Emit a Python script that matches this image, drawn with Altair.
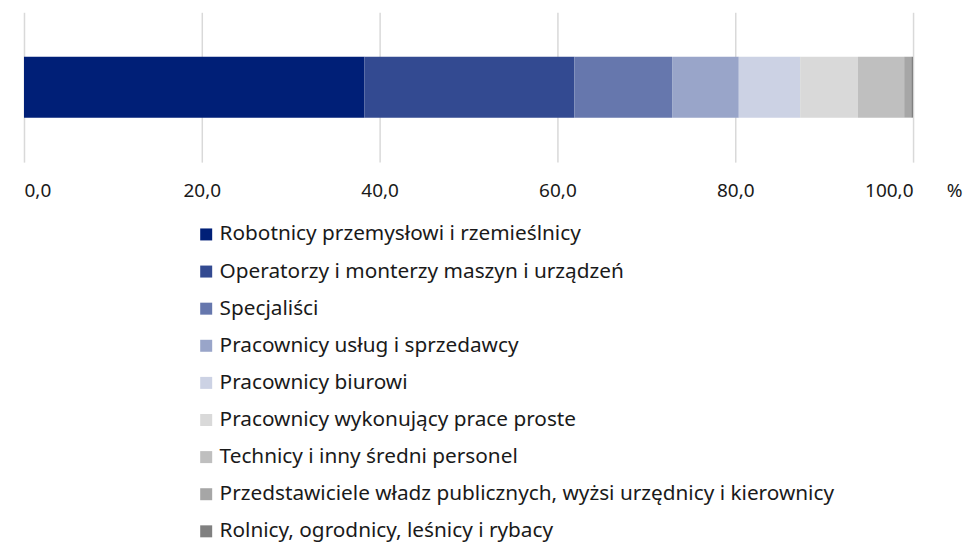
import altair as alt
import pandas as pd

categories = [
    "Robotnicy przemysłowi i rzemieślnicy",
    "Operatorzy i monterzy maszyn i urządzeń",
    "Specjaliści",
    "Pracownicy usług i sprzedawcy",
    "Pracownicy biurowi",
    "Pracownicy wykonujący prace proste",
    "Technicy i inny średni personel",
    "Przedstawiciele władz publicznych, wyżsi urzędnicy i kierownicy",
    "Rolnicy, ogrodnicy, leśnicy i rybacy",
]
values = [38.3, 23.6, 11.0, 7.5, 6.9, 6.5, 5.2, 0.8, 0.2]
colors = ["#001F77", "#334A91", "#6677AD", "#99A5C9", "#CCD2E4",
          "#D9D9D9", "#BFBFBF", "#A6A6A6", "#808080"]
x_ticks = [0, 20, 40, 60, 80, 100]

df = pd.DataFrame({
    "kategoria": categories,
    "wartosc": values,
    "kolejnosc": list(range(len(categories))),
    "wiersz": ["a"] * len(categories),
})

FONT = "Noto Sans"

chart = alt.Chart(df).mark_bar().encode(
    x=alt.X("wartosc:Q", stack="zero",
            scale=alt.Scale(domain=[0, 100], nice=False),
            axis=alt.Axis(values=x_ticks, grid=True, gridColor="#D9D9D9", gridWidth=1.5,
                          domain=False, ticks=False, labelPadding=19,
                          labelFontSize=19, labelColor="#1a1a1a", labelFont=FONT,
                          labelExpr="replace(format(datum.value, '.1f'), '.', ',')",
                          title="%", titleAngle=0, titleX=931, titleY=19,
                          titleAlign="center", titleBaseline="top",
                          titleFontSize=19, titleFontWeight="normal", titleFont=FONT,
                          titleColor="#1a1a1a")),
    y=alt.Y("wiersz:N", axis=None,
            scale=alt.Scale(paddingInner=0, paddingOuter=0.73)),
    color=alt.Color("kategoria:N",
                    scale=alt.Scale(domain=categories, range=colors),
                    legend=alt.Legend(orient="none", legendX=172, legendY=212,
                                      title=None, symbolType="square", symbolSize=144,
                                      symbolStrokeWidth=0, labelFontSize=20.8,
                                      labelFont=FONT, labelColor="#1a1a1a",
                                      labelOffset=3, rowPadding=15.15, labelLimit=1000,
                                      padding=0)),
    order=alt.Order("kolejnosc:Q", sort="ascending"),
).properties(
    width=890, height=150,
    autosize=alt.AutoSizeParams(type="none"),
    padding={"left": 16, "top": 4, "right": 50, "bottom": 381},
).configure_view(stroke=None)

chart.save("out.html", embed_options={"renderer": "svg", "actions": False})
